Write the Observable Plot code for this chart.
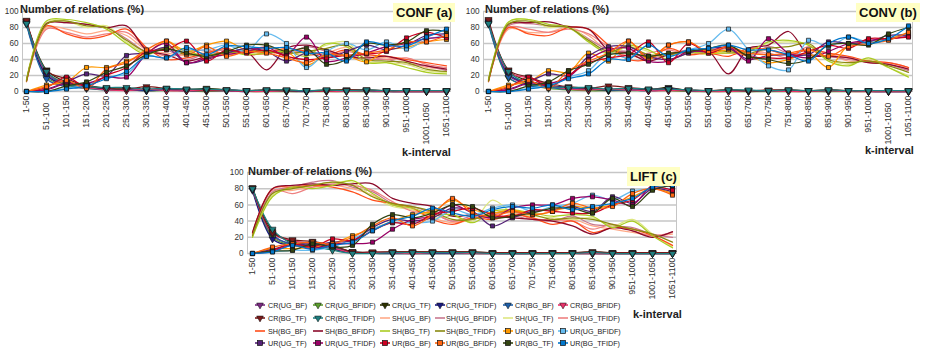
<!DOCTYPE html>
<html><head><meta charset="utf-8">
<script src="https://cdn.jsdelivr.net/npm/d3@7"></script>
<script src="https://cdn.jsdelivr.net/npm/@observablehq/plot@0.6"></script>
<style>
body{margin:0;background:#fff;}
#root{position:relative;width:925px;height:352px;overflow:hidden;font-family:"Liberation Sans",Arial,sans-serif;background:#fff;}
.pan{position:absolute;}
.lbl{position:absolute;font-weight:bold;white-space:nowrap;color:#222;line-height:1;}
.ttl{position:absolute;background:#ffffc4;font-weight:bold;font-size:13px;line-height:19px;padding:0 3px;color:#111;white-space:nowrap;}
</style></head><body><div id="root"></div>
<script>
const categories = ["1-50","51-100","101-150","151-200","201-250","251-300","301-350","351-400","401-450","451-500","501-550","551-600","601-650","651-700","701-750","751-800","801-850","851-900","901-950","951-1000","1001-1050","1051-1100"];
const staggered = ["51-100","1001-1050"];
const yTicks = [0,20,40,60,80,100];
const seriesNames = ["CR(UG_BF)","CR(UG_BFIDF)","CR(UG_TF)","CR(UG_TFIDF)","CR(BG_BF)","CR(BG_BFIDF)","CR(BG_TF)","CR(BG_TFIDF)",
  "SH(UG_BF)","SH(UG_BFIDF)","SH(UG_TF)","SH(UG_TFIDF)","SH(BG_BF)","SH(BG_BFIDF)","SH(BG_TF)","SH(BG_TFIDF)",
  "UR(UG_BF)","UR(UG_BFIDF)","UR(UG_TF)","UR(UG_TFIDF)","UR(BG_BF)","UR(BG_BFIDF)","UR(BG_TF)","UR(BG_TFIDF)"];
const seriesColors = ["#7a2a82","#5c9e2e","#2e3300","#1a1a80","#1f5fa8","#e8336a","#7a1a1a","#1f7f80",
  "#ffaa88","#c87890","#dde680","#ee8080","#ff4d1a","#8b0a2a","#aacc22","#8a8a10",
  "#ff9900","#66bbee","#552277","#990066","#cc0022","#ff6611","#334411","#0077cc"];

// CONF (a)
const confCR = [
 [88,22,10,5,3,2,1,2,1,1,1,0,1,0,0,1,1,0,0,0,0,0],
 [87,18,8,4,2,2,1,1,1,0,1,0,0,0,0,0,0,0,0,0,0,0],
 [86,27,12,8,4,3,2,3,2,4,2,1,2,2,1,2,2,2,1,1,1,1],
 [85,20,9,6,3,2,1,2,1,1,1,0,1,1,0,1,1,1,0,0,0,0],
 [84,16,6,4,2,3,2,2,2,2,2,1,1,1,1,1,1,1,1,1,1,1],
 [88,24,11,5,2,1,3,1,1,1,1,0,0,1,1,0,0,1,0,0,0,0],
 [89,26,16,7,4,3,6,4,3,2,2,1,2,1,1,1,2,2,1,1,1,1],
 [85,25,9,6,5,5,3,4,3,3,2,1,2,2,1,2,1,2,1,1,1,1]];
const confSH = [
 [13,80,78,72,76,70,52,48,45,50,48,52,46,50,45,48,55,44,42,38,30,28],
 [14,84,86,84,80,66,50,52,40,48,52,48,52,46,56,50,44,40,40,34,32,26],
 [15,86,88,80,82,62,48,55,50,45,50,48,50,52,48,58,62,38,36,34,26,24],
 [12,78,74,68,72,74,54,44,48,52,46,50,56,48,52,44,50,44,40,42,34,30],
 [13,82,72,66,70,78,55,40,42,48,54,46,48,54,50,46,52,46,44,40,36,32],
 [14,85,86,84,80,82,52,46,38,44,50,50,27,54,58,52,44,42,44,38,32,28],
 [15,88,90,86,78,60,46,56,52,42,50,46,48,50,44,60,56,36,36,30,24,22],
 [13,84,88,82,80,64,50,54,46,46,48,52,50,48,50,54,58,40,38,36,28,25]];
const confUR = [
 [0,8,12,30,30,38,48,63,50,58,63,52,55,50,33,45,45,37,52,55,62,65],
 [0,0,4,8,18,22,44,42,52,52,58,50,72,60,30,50,60,52,62,53,65,70],
 [0,3,12,22,20,45,48,55,36,40,48,54,50,38,48,42,50,58,52,58,70,72],
 [0,2,10,10,18,18,47,60,36,42,46,50,55,46,68,38,42,48,56,60,66,68],
 [0,5,18,6,20,30,50,52,63,38,52,48,52,44,40,42,45,47,50,67,74,67],
 [0,6,14,4,28,36,52,63,46,56,44,50,48,42,36,46,45,48,52,62,62,70],
 [0,0,7,12,24,32,46,53,48,44,50,58,58,50,54,34,40,60,58,62,76,75],
 [0,0,3,7,16,25,44,42,55,46,57,56,54,55,48,48,38,62,58,57,68,78]];

// CONV (b)
const convCR = [
 [88,20,10,6,3,2,1,2,1,2,1,0,1,0,1,1,1,0,1,0,0,0],
 [86,17,8,4,2,1,1,1,1,1,0,0,0,0,0,0,0,0,0,0,0,0],
 [85,26,13,8,4,3,2,4,2,5,1,1,2,1,1,2,1,2,1,1,1,1],
 [87,22,10,7,5,3,2,2,2,4,1,1,1,1,1,1,1,1,1,0,0,0],
 [84,18,7,5,3,4,2,2,1,2,1,1,1,1,1,1,1,1,1,1,1,1],
 [89,24,17,8,3,2,3,2,1,1,1,0,0,1,1,0,0,1,0,0,0,0],
 [90,27,18,10,6,4,7,5,3,3,2,1,2,1,2,2,1,2,1,1,1,1],
 [85,25,10,6,5,5,3,4,3,3,2,1,2,2,1,2,1,2,1,1,1,1]];
const convSH = [
 [13,78,74,74,80,70,50,45,42,48,50,46,48,46,52,46,52,48,38,40,34,28],
 [14,82,85,82,80,66,52,50,42,46,52,48,54,44,56,48,46,44,40,38,34,26],
 [15,86,90,80,82,64,46,56,50,44,50,46,50,52,60,62,58,40,34,40,30,20],
 [12,80,78,74,78,72,56,44,48,52,46,52,54,48,48,42,56,46,42,36,36,30],
 [13,80,72,70,80,78,58,40,40,54,46,48,44,54,52,46,52,48,44,38,36,30],
 [14,84,86,87,81,78,52,48,38,46,50,50,22,54,58,75,46,44,42,36,34,28],
 [15,87,90,84,80,62,48,58,52,40,48,48,48,50,62,64,58,38,32,42,30,18],
 [13,84,88,82,80,64,50,56,46,46,50,52,50,48,54,56,60,40,36,38,32,24]];
const convUR = [
 [0,8,12,26,24,48,38,63,40,58,62,48,52,44,36,40,48,30,58,62,66,74],
 [0,0,4,8,18,26,48,42,58,44,52,60,78,52,32,27,64,56,68,62,65,72],
 [0,3,12,22,20,44,56,56,44,40,48,54,54,40,45,46,46,62,60,62,70,70],
 [0,2,10,10,18,40,52,54,38,38,50,50,56,38,66,48,42,50,60,64,66,69],
 [0,5,18,6,20,36,42,46,62,36,60,48,56,44,42,42,50,58,54,66,66,68],
 [0,6,14,4,26,38,48,63,42,58,62,50,56,48,46,48,52,44,56,60,64,74],
 [0,0,7,12,26,34,46,48,44,48,50,54,58,44,40,35,40,58,60,58,72,80],
 [0,0,3,7,16,22,40,40,58,44,52,54,58,52,52,46,38,60,68,60,66,82]];

// LIFT (c)
const liftCR = [
 [80,22,12,10,6,1,1,1,1,1,1,1,0,0,0,0,1,0,0,0,0,0],
 [79,20,10,8,5,1,0,0,0,0,0,0,0,0,0,0,0,0,0,0,0,0],
 [81,28,14,12,8,2,1,2,2,2,2,2,1,1,1,1,1,2,1,1,1,1],
 [78,18,10,14,6,1,0,0,0,0,0,0,0,0,0,1,0,0,0,0,0,0],
 [80,24,11,13,9,2,1,1,1,1,1,1,1,1,1,1,1,1,1,1,1,1],
 [80,25,16,12,7,1,1,1,0,1,1,0,0,0,0,0,0,0,0,0,0,0],
 [81,26,17,15,10,2,2,2,2,2,2,2,1,1,1,1,1,2,1,1,1,1],
 [80,30,12,9,4,0,0,1,1,1,1,1,0,0,0,0,0,1,0,0,0,0]];
const liftSH = [
 [22,74,78,82,84,80,72,60,54,44,38,42,48,50,44,40,42,34,30,26,22,24],
 [24,76,82,88,90,82,76,62,58,50,40,46,44,46,42,40,46,36,34,32,24,20],
 [20,72,80,84,88,88,70,58,54,44,46,40,66,50,46,44,42,44,34,42,24,8],
 [24,78,74,82,86,84,78,64,52,50,40,44,48,52,42,42,40,30,36,28,22,26],
 [25,80,82,84,82,76,66,62,56,42,36,44,42,48,44,36,40,26,32,30,22,10],
 [26,80,84,86,84,86,86,68,62,58,46,48,46,44,42,40,34,24,32,28,20,27],
 [20,70,82,80,84,90,74,60,56,48,48,38,52,54,50,46,48,46,32,40,22,7],
 [22,74,80,84,88,84,70,62,58,52,42,42,50,52,48,42,44,42,36,30,24,14]];
const liftUR = [
 [0,6,6,8,12,22,30,40,48,52,66,54,50,54,48,52,58,56,60,70,80,74],
 [0,2,4,4,8,18,30,38,38,40,54,48,56,60,52,58,62,72,66,77,80,80],
 [0,5,12,10,14,16,32,42,40,44,56,52,34,44,52,54,58,52,70,62,80,76],
 [0,3,10,6,12,12,14,30,42,46,60,50,44,56,60,60,68,70,66,60,84,82],
 [0,4,12,8,18,16,28,38,36,48,52,56,48,46,54,52,50,50,60,66,82,78],
 [0,8,12,14,12,20,34,44,34,48,68,50,46,52,48,52,62,56,58,74,80,72],
 [0,3,4,12,8,10,36,48,44,50,60,58,44,46,50,56,56,50,68,58,78,84],
 [0,2,10,5,10,14,28,40,46,56,50,46,54,58,56,60,54,58,62,68,82,84]];

const groups = ["CR","SH","UR"];
function rowsFor(cr, sh, ur) {
  const out = [];
  [cr, sh, ur].forEach((grp, g) => grp.forEach((vals, k) => {
    const name = seriesNames[g * 8 + k];
    vals.forEach((v, i) => out.push({cat: categories[i], value: v, series: name, group: groups[g]}));
  }));
  return out;
}

const FONT = '"Liberation Sans", Arial, sans-serif';
function panel(data, o) {
  const straight = o.stagger ? categories.filter(c => !staggered.includes(c)) : categories;
  const axes = [Plot.axisX({ticks: straight, tickRotate: -90, tickSize: 0, tickPadding: 4, fontSize: 8.8, label: null})];
  if (o.stagger) axes.push(Plot.axisX({ticks: staggered, tickRotate: -90, tickSize: 0, tickPadding: 11, fontSize: 8.8, label: null}));
  return Plot.plot({
    width: o.width, height: o.height,
    marginLeft: o.ml, marginRight: o.mr, marginTop: o.mt, marginBottom: o.mb,
    style: {fontFamily: FONT, background: "transparent", color: "#333", overflow: "visible"},
    x: {type: "point", domain: categories, padding: 0.17},
    y: {domain: [0, 100]},
    color: {domain: seriesNames, range: seriesColors},
    marks: [
      Plot.ruleY(yTicks, {stroke: "#c6c6c6", strokeWidth: 1.5}),
      Plot.frame({stroke: "#c6c6c6", strokeWidth: 1}),
      Plot.axisY({ticks: yTicks, tickSize: 0, tickPadding: 4, fontSize: 8.2, label: null}),
      ...axes,
      Plot.line(data, {x: "cat", y: "value", z: "series", stroke: "series", curve: "catmull-rom", strokeWidth: 1.25}),
      Plot.dot(data.filter(d => d.group === "CR"), {x: "cat", y: "value", fill: "series", stroke: "#111", strokeWidth: 0.6, symbol: "triangle", r: 2.6, rotate: 180}),
      Plot.dot(data.filter(d => d.group === "UR"), {x: "cat", y: "value", fill: "series", stroke: "#111", strokeWidth: 0.7, symbol: "square", r: 2.3})
    ]
  });
}

const root = document.getElementById("root");
function place(el, left, top) {
  const w = document.createElement("div");
  w.className = "pan"; w.style.left = left + "px"; w.style.top = top + "px";
  w.appendChild(el); root.appendChild(w);
}
place(panel(rowsFor(confCR, confSH, confUR), {width: 460, height: 160, ml: 22, mr: 10, mt: 11, mb: 69, stagger: true}), 0, 0);
place(panel(rowsFor(convCR, convSH, convUR), {width: 465, height: 160, ml: 23, mr: 13, mt: 11, mb: 69, stagger: true}), 460, 0);
place(panel(rowsFor(liftCR, liftSH, liftUR), {width: 480, height: 135, ml: 27, mr: 24, mt: 7, mb: 47, stagger: false}), 220, 165);

function label(text, left, top, size, cls) {
  const d = document.createElement("div");
  d.className = cls || "lbl"; d.textContent = text;
  d.style.left = left + "px"; d.style.top = top + "px";
  if (size) d.style.fontSize = size + "px";
  root.appendChild(d);
}
label("Number of relations (%)", 20, 4, 11);
label("Number of relations (%)", 485, 4, 11);
label("Number of relations (%)", 248, 166, 11);
label("CONF (a)", 393, 3, null, "ttl");
label("CONV (b)", 856, 3, null, "ttl");
label("LIFT (c)", 627, 167, null, "ttl");
label("k-interval", 402, 147, 11);
label("k-interval", 865, 145, 11);
label("k-interval", 633, 309, 11);

// legend
const legSvg = d3.select(root).append("svg")
  .attr("width", 925).attr("height", 352)
  .style("position", "absolute").style("left", 0).style("top", 0).style("pointer-events", "none");
const colSym = [260, 318, 385, 440, 508, 563];
const colTxt = [268, 325, 392, 446, 515, 570];
const rowY = [305, 318, 331, 343];
seriesNames.forEach((name, i) => {
  const r = Math.floor(i / 6), c = i % 6;
  const cx = colSym[c], cy = rowY[r];
  const g = legSvg.append("g");
  const grp = name.slice(0, 2);
  g.append("line").attr("x1", cx - 5).attr("x2", cx + 5).attr("y1", cy).attr("y2", cy)
    .attr("stroke", seriesColors[i]).attr("stroke-width", 1.6);
  if (grp === "CR") {
    g.append("path").attr("d", d3.symbol(d3.symbolTriangle, 20)()).attr("transform", `translate(${cx},${cy}) rotate(180)`)
      .attr("fill", seriesColors[i]).attr("stroke", "#111").attr("stroke-width", 0.5);
  } else if (grp === "UR") {
    g.append("rect").attr("x", cx - 2.5).attr("y", cy - 2.5).attr("width", 5).attr("height", 5)
      .attr("fill", seriesColors[i]).attr("stroke", "#111").attr("stroke-width", 0.7);
  }
  g.append("text").attr("x", colTxt[c]).attr("y", cy).attr("dy", "0.35em")
    .attr("font-family", FONT).attr("font-size", 7.2).attr("fill", "#222").text(name);
});
</script></body></html>
